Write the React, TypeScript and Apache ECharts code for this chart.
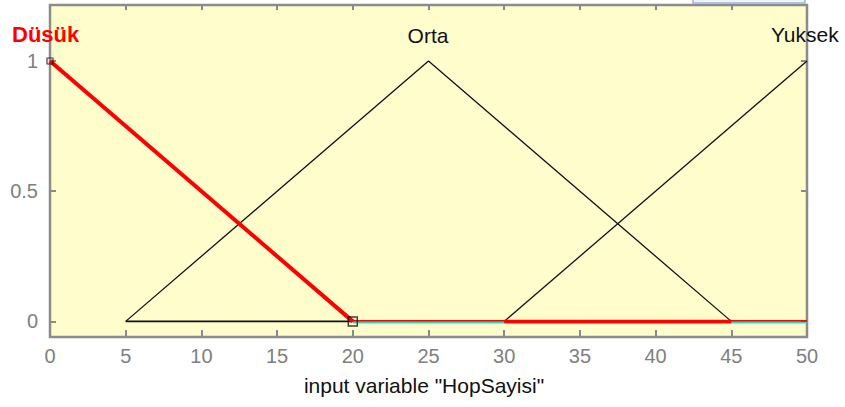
import React, { useEffect, useRef } from "react";
import * as echarts from "echarts";

// Membership functions (x, mu)
const dusukLine = [[0, 1], [20, 0]];
const ortaLine = [[5, 0], [25, 1], [45, 0]];
const yuksekLine = [[30, 0], [50, 1]];
const baseBlack = [[5, 0], [20, 0]];
const redZero = [[20, 0.002], [50, 0.002]];
const redZeroThick = [[30, 0], [45, 0]];
const cyanZero = [[20, -0.005], [50, -0.005]];
const markersBig = [[20, 0]];
const markersSmall = [[0, 1]];
const xTicks = [0, 5, 10, 15, 20, 25, 30, 35, 40, 45, 50];
const yTicks = [0, 0.5, 1];
const mfNames = ["Düsük", "Orta", "Yuksek"];
const xTitle = 'input variable "HopSayisi"';

const FONT = "'Liberation Sans', Arial, sans-serif";
const GRAY = "#8a8a8a";

export default function App() {
  const ref = useRef<HTMLDivElement>(null);
  useEffect(() => {
    if (!ref.current) return;
    const chart = echarts.init(ref.current, null, { renderer: "svg" });
    const lineS = (data: number[][], color: string, width: number, z: number) => ({
      type: "line",
      data,
      symbol: "none",
      lineStyle: { color, width },
      z,
      silent: true,
    });
    const tick = (len: number, values: number[]) => ({
      show: true,
      inside: true,
      length: len,
      lineStyle: { color: GRAY, width: 2 },
      customValues: values,
    });
    chart.setOption({
      animation: false,
      backgroundColor: "#ffffff",
      grid: {
        left: 50,
        right: 38,
        top: 5,
        bottom: 70,
        show: true,
        backgroundColor: "#FFFDCC",
        borderColor: "#8c8c8c",
        borderWidth: 2.5,
      },
      xAxis: [
        {
          type: "value",
          min: 0,
          max: 50,
          interval: 5,
          position: "bottom",
          axisLine: { show: false, onZero: false },
          axisTick: tick(7, xTicks),
          axisLabel: {
            show: true,
            customValues: xTicks,
            color: "#808080",
            fontFamily: FONT,
            fontSize: 20,
            margin: 9,
            showMinLabel: true,
            showMaxLabel: true,
          },
          splitLine: { show: false },
        },
        {
          type: "value",
          min: 0,
          max: 50,
          interval: 5,
          position: "top",
          axisLine: { show: false, onZero: false },
          axisTick: tick(5, xTicks),
          axisLabel: { show: false },
          splitLine: { show: false },
        },
      ],
      yAxis: [
        {
          type: "value",
          min: -0.06,
          max: 1.215,
          position: "left",
          axisLine: { show: false, onZero: false },
          axisTick: tick(6, yTicks),
          axisLabel: {
            show: true,
            customValues: yTicks,
            color: "#808080",
            fontFamily: FONT,
            fontSize: 20,
            margin: 12,
          },
          splitLine: { show: false },
        },
        {
          type: "value",
          min: -0.06,
          max: 1.215,
          position: "right",
          axisLine: { show: false, onZero: false },
          axisTick: tick(6, yTicks),
          axisLabel: { show: false },
          splitLine: { show: false },
        },
      ],
      series: [
        lineS(ortaLine, "#111111", 1.3, 2),
        lineS(yuksekLine, "#111111", 1.3, 2),
        lineS(baseBlack, "#111111", 1.6, 2),
        lineS(cyanZero, "#30dcc0", 1.6, 3),
        lineS(redZero, "#ff0000", 1.6, 4),
        lineS(redZeroThick, "#ff0000", 3.5, 4),
        lineS(dusukLine, "#ff0000", 4, 5),
        {
          type: "scatter",
          data: markersBig,
          symbol: "rect",
          symbolSize: 9,
          itemStyle: { color: "rgba(0,0,0,0)", borderColor: "#111111", borderWidth: 1.5 },
          z: 6,
          silent: true,
        },
        {
          type: "scatter",
          data: markersSmall,
          symbol: "rect",
          symbolSize: 6,
          itemStyle: { color: "rgba(0,0,0,0)", borderColor: "#111111", borderWidth: 1.2 },
          z: 6,
          silent: true,
        },
      ],
      graphic: [
        {
          type: "rect",
          shape: { x: 693, y: -10, width: 112, height: 13 },
          style: { fill: "#eef3fa", stroke: "#9bb5d6", lineWidth: 1.5 },
          z: 10,
        },
        {
          type: "text",
          x: 12,
          y: 34,
          style: { text: mfNames[0], fill: "#ff0000", font: `bold 22px ${FONT}`, textVerticalAlign: "middle", textAlign: "left" },
          z: 10,
        },
        {
          type: "text",
          x: 428,
          y: 35,
          style: { text: mfNames[1], fill: "#111111", font: `21px ${FONT}`, textVerticalAlign: "middle", textAlign: "center" },
          z: 10,
        },
        {
          type: "text",
          x: 771,
          y: 34,
          style: { text: mfNames[2], fill: "#111111", font: `21px ${FONT}`, textVerticalAlign: "middle", textAlign: "left" },
          z: 10,
        },
        {
          type: "text",
          x: 424,
          y: 385,
          style: { text: xTitle, fill: "#111111", font: `21px ${FONT}`, textVerticalAlign: "middle", textAlign: "center" },
          z: 10,
        },
      ],
    });
    return () => chart.dispose();
  }, []);
  return (
    <div
      ref={ref}
      style={{ position: "fixed", left: 0, top: 0, width: 845, height: 407, background: "#fff" }}
    />
  );
}
